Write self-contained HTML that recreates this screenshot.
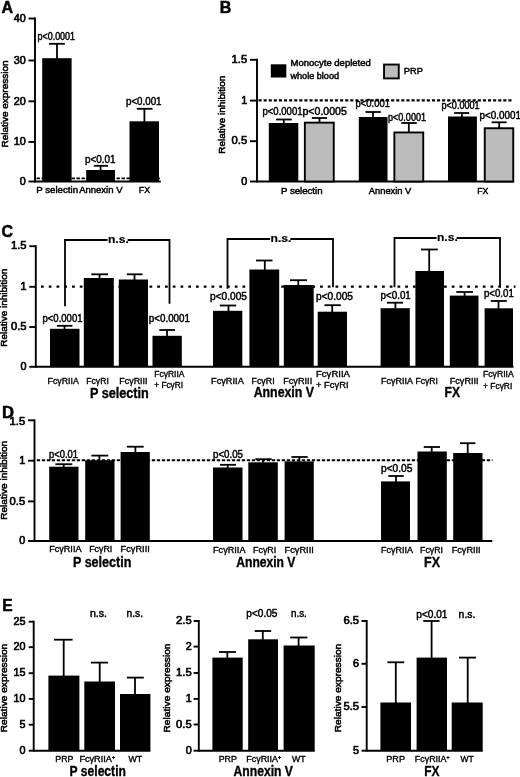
<!DOCTYPE html>
<html><head><meta charset="utf-8"><title>Figure</title>
<style>
html,body{margin:0;padding:0;background:#fff;}
body{width:520px;height:777px;overflow:hidden;font-family:'Liberation Sans', sans-serif;}
svg{display:block;filter:grayscale(1) blur(0.3px);}
svg text{font-family:"Liberation Sans",sans-serif;fill:#000;}
</style></head><body>
<svg width="520" height="777" viewBox="0 0 520 777">
<rect width="520" height="777" fill="#fff"/>
<g>
<text x="7.30" y="13.11" font-size="16.5" font-weight="bold" text-anchor="middle" textLength="11.60" lengthAdjust="spacingAndGlyphs" stroke="#000" stroke-width="0.5">A</text>
<line x1="35.00" y1="17.55" x2="35.00" y2="182.45" stroke="#000" stroke-width="1.9" stroke-linecap="butt"/>
<line x1="28.50" y1="18.50" x2="35.00" y2="18.50" stroke="#000" stroke-width="1.9" stroke-linecap="butt"/>
<text x="19.70" y="21.78" font-size="10" font-weight="normal" text-anchor="middle" textLength="12.00" lengthAdjust="spacingAndGlyphs" stroke="#000" stroke-width="0.6">40</text>
<line x1="28.50" y1="60.50" x2="35.00" y2="60.50" stroke="#000" stroke-width="1.9" stroke-linecap="butt"/>
<text x="19.70" y="63.78" font-size="10" font-weight="normal" text-anchor="middle" textLength="12.00" lengthAdjust="spacingAndGlyphs" stroke="#000" stroke-width="0.6">30</text>
<line x1="28.50" y1="101.30" x2="35.00" y2="101.30" stroke="#000" stroke-width="1.9" stroke-linecap="butt"/>
<text x="19.70" y="104.58" font-size="10" font-weight="normal" text-anchor="middle" textLength="12.00" lengthAdjust="spacingAndGlyphs" stroke="#000" stroke-width="0.6">20</text>
<line x1="28.50" y1="142.00" x2="35.00" y2="142.00" stroke="#000" stroke-width="1.9" stroke-linecap="butt"/>
<text x="19.70" y="145.28" font-size="10" font-weight="normal" text-anchor="middle" textLength="12.00" lengthAdjust="spacingAndGlyphs" stroke="#000" stroke-width="0.6">10</text>
<line x1="28.50" y1="181.50" x2="35.00" y2="181.50" stroke="#000" stroke-width="1.9" stroke-linecap="butt"/>
<text x="22.70" y="184.78" font-size="10" font-weight="normal" text-anchor="middle" textLength="6.00" lengthAdjust="spacingAndGlyphs" stroke="#000" stroke-width="0.6">0</text>
<line x1="35.00" y1="181.50" x2="160.80" y2="181.50" stroke="#000" stroke-width="1.9" stroke-linecap="butt"/>
<text transform="translate(7.62,104.00) rotate(-90)" font-size="9" text-anchor="middle" textLength="87.00" lengthAdjust="spacingAndGlyphs" stroke="#000" stroke-width="0.5">Relative expression</text>
<line x1="36.50" y1="178.40" x2="161.50" y2="178.40" stroke="#000" stroke-width="1.7" stroke-linecap="butt" stroke-dasharray="3.4 1.6"/>
<rect x="42.20" y="58.20" width="29.40" height="123.30" fill="#000"/>
<line x1="57.00" y1="43.80" x2="57.00" y2="58.80" stroke="#000" stroke-width="1.8" stroke-linecap="butt"/>
<line x1="49.00" y1="43.80" x2="64.80" y2="43.80" stroke="#000" stroke-width="1.8" stroke-linecap="butt"/>
<rect x="86.20" y="170.00" width="28.80" height="11.50" fill="#000"/>
<line x1="100.60" y1="165.80" x2="100.60" y2="170.50" stroke="#000" stroke-width="1.8" stroke-linecap="butt"/>
<line x1="93.80" y1="165.80" x2="108.00" y2="165.80" stroke="#000" stroke-width="1.8" stroke-linecap="butt"/>
<rect x="129.50" y="121.30" width="29.50" height="60.20" fill="#000"/>
<line x1="144.40" y1="108.80" x2="144.40" y2="121.80" stroke="#000" stroke-width="1.8" stroke-linecap="butt"/>
<line x1="136.80" y1="108.80" x2="152.50" y2="108.80" stroke="#000" stroke-width="1.8" stroke-linecap="butt"/>
<text x="56.25" y="40.38" font-size="10" font-weight="normal" text-anchor="middle" textLength="37.50" lengthAdjust="spacingAndGlyphs" stroke="#000" stroke-width="0.45">p&lt;0.0001</text>
<text x="100.25" y="162.58" font-size="10" font-weight="normal" text-anchor="middle" textLength="30.50" lengthAdjust="spacingAndGlyphs" stroke="#000" stroke-width="0.45">p&lt;0.01</text>
<text x="143.75" y="105.08" font-size="10" font-weight="normal" text-anchor="middle" textLength="35.50" lengthAdjust="spacingAndGlyphs" stroke="#000" stroke-width="0.45">p&lt;0.001</text>
<text x="57.15" y="193.10" font-size="9.5" font-weight="normal" text-anchor="middle" textLength="41.90" lengthAdjust="spacingAndGlyphs" stroke="#000" stroke-width="0.45">P selectin</text>
<text x="100.85" y="193.10" font-size="9.5" font-weight="normal" text-anchor="middle" textLength="43.30" lengthAdjust="spacingAndGlyphs" stroke="#000" stroke-width="0.45">Annexin V</text>
<text x="144.40" y="193.10" font-size="9.5" font-weight="normal" text-anchor="middle" textLength="11.20" lengthAdjust="spacingAndGlyphs" stroke="#000" stroke-width="0.45">FX</text>
<text x="225.50" y="12.91" font-size="16.5" font-weight="bold" text-anchor="middle" textLength="11.60" lengthAdjust="spacingAndGlyphs" stroke="#000" stroke-width="0.5">B</text>
<line x1="257.00" y1="58.85" x2="257.00" y2="182.45" stroke="#000" stroke-width="1.9" stroke-linecap="butt"/>
<line x1="250.00" y1="59.80" x2="257.00" y2="59.80" stroke="#000" stroke-width="1.9" stroke-linecap="butt"/>
<text x="239.40" y="63.08" font-size="10" font-weight="normal" text-anchor="middle" textLength="15.60" lengthAdjust="spacingAndGlyphs" stroke="#000" stroke-width="0.6">1.5</text>
<line x1="250.00" y1="100.60" x2="257.00" y2="100.60" stroke="#000" stroke-width="1.9" stroke-linecap="butt"/>
<text x="244.20" y="103.88" font-size="10" font-weight="normal" text-anchor="middle" textLength="6.00" lengthAdjust="spacingAndGlyphs" stroke="#000" stroke-width="0.6">1</text>
<line x1="250.00" y1="141.20" x2="257.00" y2="141.20" stroke="#000" stroke-width="1.9" stroke-linecap="butt"/>
<text x="239.40" y="144.48" font-size="10" font-weight="normal" text-anchor="middle" textLength="15.60" lengthAdjust="spacingAndGlyphs" stroke="#000" stroke-width="0.6">0.5</text>
<line x1="250.00" y1="181.50" x2="257.00" y2="181.50" stroke="#000" stroke-width="1.9" stroke-linecap="butt"/>
<text x="244.20" y="184.78" font-size="10" font-weight="normal" text-anchor="middle" textLength="6.00" lengthAdjust="spacingAndGlyphs" stroke="#000" stroke-width="0.6">0</text>
<line x1="257.00" y1="181.50" x2="513.80" y2="181.50" stroke="#000" stroke-width="1.9" stroke-linecap="butt"/>
<text transform="translate(225.12,114.70) rotate(-90)" font-size="9" text-anchor="middle" textLength="78.00" lengthAdjust="spacingAndGlyphs" stroke="#000" stroke-width="0.5">Relative inhibition</text>
<line x1="258.50" y1="100.40" x2="513.00" y2="100.40" stroke="#000" stroke-width="2.4" stroke-linecap="butt" stroke-dasharray="3.1 2"/>
<rect x="270.80" y="64.30" width="15.50" height="13.20" fill="#000"/>
<text x="330.65" y="66.22" font-size="9" font-weight="normal" text-anchor="middle" textLength="80.30" lengthAdjust="spacingAndGlyphs" stroke="#000" stroke-width="0.45">Monocyte depleted</text>
<text x="314.75" y="79.02" font-size="9" font-weight="normal" text-anchor="middle" textLength="48.50" lengthAdjust="spacingAndGlyphs" stroke="#000" stroke-width="0.45">whole blood</text>
<rect x="384.05" y="64.55" width="14.70" height="13.85" fill="#bcbcbc" stroke="#000" stroke-width="1.9"/>
<text x="413.30" y="73.52" font-size="9" font-weight="normal" text-anchor="middle" textLength="19.00" lengthAdjust="spacingAndGlyphs" stroke="#000" stroke-width="0.45">PRP</text>
<rect x="268.80" y="123.00" width="29.50" height="58.00" fill="#000"/>
<line x1="283.80" y1="119.50" x2="283.80" y2="123.50" stroke="#000" stroke-width="1.8" stroke-linecap="butt"/>
<line x1="276.00" y1="119.50" x2="291.80" y2="119.50" stroke="#000" stroke-width="1.8" stroke-linecap="butt"/>
<rect x="304.85" y="122.65" width="28.90" height="58.85" fill="#bcbcbc" stroke="#000" stroke-width="1.9"/>
<line x1="319.50" y1="118.00" x2="319.50" y2="122.50" stroke="#000" stroke-width="1.8" stroke-linecap="butt"/>
<line x1="311.80" y1="118.00" x2="327.00" y2="118.00" stroke="#000" stroke-width="1.8" stroke-linecap="butt"/>
<rect x="358.80" y="117.00" width="28.70" height="64.00" fill="#000"/>
<line x1="373.00" y1="112.00" x2="373.00" y2="117.50" stroke="#000" stroke-width="1.8" stroke-linecap="butt"/>
<line x1="365.50" y1="112.00" x2="380.80" y2="112.00" stroke="#000" stroke-width="1.8" stroke-linecap="butt"/>
<rect x="394.35" y="132.45" width="28.90" height="49.05" fill="#bcbcbc" stroke="#000" stroke-width="1.9"/>
<line x1="408.80" y1="123.00" x2="408.80" y2="132.30" stroke="#000" stroke-width="1.8" stroke-linecap="butt"/>
<line x1="401.30" y1="123.00" x2="416.80" y2="123.00" stroke="#000" stroke-width="1.8" stroke-linecap="butt"/>
<rect x="448.00" y="116.50" width="28.90" height="64.50" fill="#000"/>
<line x1="461.90" y1="113.00" x2="461.90" y2="117.00" stroke="#000" stroke-width="1.8" stroke-linecap="butt"/>
<line x1="454.20" y1="113.00" x2="469.20" y2="113.00" stroke="#000" stroke-width="1.8" stroke-linecap="butt"/>
<rect x="484.75" y="128.25" width="28.50" height="53.25" fill="#bcbcbc" stroke="#000" stroke-width="1.9"/>
<line x1="499.20" y1="122.30" x2="499.20" y2="128.10" stroke="#000" stroke-width="1.8" stroke-linecap="butt"/>
<line x1="491.60" y1="122.30" x2="506.60" y2="122.30" stroke="#000" stroke-width="1.8" stroke-linecap="butt"/>
<text x="282.50" y="114.58" font-size="10" font-weight="normal" text-anchor="middle" textLength="40.00" lengthAdjust="spacingAndGlyphs" stroke="#000" stroke-width="0.45">p&lt;0.0001</text>
<text x="324.65" y="114.58" font-size="10" font-weight="normal" text-anchor="middle" textLength="44.30" lengthAdjust="spacingAndGlyphs" stroke="#000" stroke-width="0.45">p&lt;0.0005</text>
<text x="372.75" y="107.38" font-size="10" font-weight="normal" text-anchor="middle" textLength="34.50" lengthAdjust="spacingAndGlyphs" stroke="#000" stroke-width="0.45">p&lt;0.001</text>
<text x="407.00" y="120.58" font-size="10" font-weight="normal" text-anchor="middle" textLength="38.00" lengthAdjust="spacingAndGlyphs" stroke="#000" stroke-width="0.45">p&lt;0.0001</text>
<text x="460.55" y="108.58" font-size="10" font-weight="normal" text-anchor="middle" textLength="38.10" lengthAdjust="spacingAndGlyphs" stroke="#000" stroke-width="0.45">p&lt;0.0001</text>
<text x="500.30" y="118.98" font-size="10" font-weight="normal" text-anchor="middle" textLength="41.40" lengthAdjust="spacingAndGlyphs" stroke="#000" stroke-width="0.45">p&lt;0.0001</text>
<text x="301.75" y="194.22" font-size="9" font-weight="normal" text-anchor="middle" textLength="41.50" lengthAdjust="spacingAndGlyphs" stroke="#000" stroke-width="0.45">P selectin</text>
<text x="390.05" y="194.02" font-size="9" font-weight="normal" text-anchor="middle" textLength="42.50" lengthAdjust="spacingAndGlyphs" stroke="#000" stroke-width="0.45">Annexin V</text>
<text x="482.85" y="194.22" font-size="9" font-weight="normal" text-anchor="middle" textLength="11.10" lengthAdjust="spacingAndGlyphs" stroke="#000" stroke-width="0.45">FX</text>
<text x="7.25" y="237.41" font-size="16.5" font-weight="bold" text-anchor="middle" textLength="11.50" lengthAdjust="spacingAndGlyphs" stroke="#000" stroke-width="0.5">C</text>
<line x1="35.80" y1="245.25" x2="35.80" y2="367.75" stroke="#000" stroke-width="1.9" stroke-linecap="butt"/>
<line x1="29.30" y1="246.20" x2="35.80" y2="246.20" stroke="#000" stroke-width="1.9" stroke-linecap="butt"/>
<text x="18.70" y="249.48" font-size="10" font-weight="normal" text-anchor="middle" textLength="15.60" lengthAdjust="spacingAndGlyphs" stroke="#000" stroke-width="0.6">1.5</text>
<line x1="29.30" y1="286.80" x2="35.80" y2="286.80" stroke="#000" stroke-width="1.9" stroke-linecap="butt"/>
<text x="23.50" y="290.08" font-size="10" font-weight="normal" text-anchor="middle" textLength="6.00" lengthAdjust="spacingAndGlyphs" stroke="#000" stroke-width="0.6">1</text>
<line x1="29.30" y1="327.00" x2="35.80" y2="327.00" stroke="#000" stroke-width="1.9" stroke-linecap="butt"/>
<text x="18.70" y="330.28" font-size="10" font-weight="normal" text-anchor="middle" textLength="15.60" lengthAdjust="spacingAndGlyphs" stroke="#000" stroke-width="0.6">0.5</text>
<line x1="29.30" y1="366.80" x2="35.80" y2="366.80" stroke="#000" stroke-width="1.9" stroke-linecap="butt"/>
<text x="23.50" y="370.08" font-size="10" font-weight="normal" text-anchor="middle" textLength="6.00" lengthAdjust="spacingAndGlyphs" stroke="#000" stroke-width="0.6">0</text>
<line x1="36.00" y1="366.80" x2="513.50" y2="366.80" stroke="#000" stroke-width="1.9" stroke-linecap="butt"/>
<text transform="translate(7.32,307.70) rotate(-90)" font-size="9" text-anchor="middle" textLength="78.00" lengthAdjust="spacingAndGlyphs" stroke="#000" stroke-width="0.5">Relative inhibition</text>
<line x1="41.00" y1="286.70" x2="515.50" y2="286.70" stroke="#000" stroke-width="2.3" stroke-linecap="butt" stroke-dasharray="2.75 5"/>
<polyline points="65.0,306.3 65.0,240.0 107.5,240.0" fill="none" stroke="#000" stroke-width="1.8"/>
<polyline points="127.6,240.0 169.5,240.0 169.5,303.8" fill="none" stroke="#000" stroke-width="1.8"/>
<text x="118.40" y="242.96" font-size="10.5" font-weight="bold" text-anchor="middle" textLength="20.80" lengthAdjust="spacingAndGlyphs" stroke="#000" stroke-width="0.2">n.s.</text>
<polyline points="227.5,288.8 227.5,239.0 270.1,239.0" fill="none" stroke="#000" stroke-width="1.8"/>
<polyline points="290.3,239.0 333.0,239.0 333.0,287.3" fill="none" stroke="#000" stroke-width="1.8"/>
<text x="281.05" y="241.96" font-size="10.5" font-weight="bold" text-anchor="middle" textLength="20.90" lengthAdjust="spacingAndGlyphs" stroke="#000" stroke-width="0.2">n.s.</text>
<polyline points="394.5,287.3 394.5,238.0 436.5,238.0" fill="none" stroke="#000" stroke-width="1.8"/>
<polyline points="456.6,238.0 500.0,238.0 500.0,286.4" fill="none" stroke="#000" stroke-width="1.8"/>
<text x="447.40" y="240.96" font-size="10.5" font-weight="bold" text-anchor="middle" textLength="20.80" lengthAdjust="spacingAndGlyphs" stroke="#000" stroke-width="0.2">n.s.</text>
<rect x="50.00" y="328.80" width="29.50" height="38.00" fill="#000"/>
<line x1="64.50" y1="325.80" x2="64.50" y2="329.30" stroke="#000" stroke-width="1.8" stroke-linecap="butt"/>
<line x1="57.00" y1="325.80" x2="72.50" y2="325.80" stroke="#000" stroke-width="1.8" stroke-linecap="butt"/>
<rect x="83.80" y="278.00" width="30.00" height="88.80" fill="#000"/>
<line x1="99.50" y1="274.30" x2="99.50" y2="278.50" stroke="#000" stroke-width="1.8" stroke-linecap="butt"/>
<line x1="91.30" y1="274.30" x2="108.00" y2="274.30" stroke="#000" stroke-width="1.8" stroke-linecap="butt"/>
<rect x="118.80" y="279.50" width="29.20" height="87.30" fill="#000"/>
<line x1="134.50" y1="274.30" x2="134.50" y2="280.00" stroke="#000" stroke-width="1.8" stroke-linecap="butt"/>
<line x1="126.80" y1="274.30" x2="142.50" y2="274.30" stroke="#000" stroke-width="1.8" stroke-linecap="butt"/>
<rect x="152.50" y="335.80" width="29.30" height="31.00" fill="#000"/>
<line x1="167.00" y1="330.00" x2="167.00" y2="336.30" stroke="#000" stroke-width="1.8" stroke-linecap="butt"/>
<line x1="159.30" y1="330.00" x2="175.00" y2="330.00" stroke="#000" stroke-width="1.8" stroke-linecap="butt"/>
<rect x="213.00" y="310.80" width="29.30" height="56.00" fill="#000"/>
<line x1="228.50" y1="305.50" x2="228.50" y2="311.30" stroke="#000" stroke-width="1.8" stroke-linecap="butt"/>
<line x1="219.80" y1="305.50" x2="236.20" y2="305.50" stroke="#000" stroke-width="1.8" stroke-linecap="butt"/>
<rect x="249.40" y="269.50" width="29.80" height="97.30" fill="#000"/>
<line x1="264.80" y1="260.50" x2="264.80" y2="270.00" stroke="#000" stroke-width="1.8" stroke-linecap="butt"/>
<line x1="256.00" y1="260.50" x2="272.50" y2="260.50" stroke="#000" stroke-width="1.8" stroke-linecap="butt"/>
<rect x="283.80" y="285.00" width="29.90" height="81.80" fill="#000"/>
<line x1="298.30" y1="280.20" x2="298.30" y2="285.50" stroke="#000" stroke-width="1.8" stroke-linecap="butt"/>
<line x1="290.00" y1="280.20" x2="307.00" y2="280.20" stroke="#000" stroke-width="1.8" stroke-linecap="butt"/>
<rect x="317.70" y="311.70" width="29.30" height="55.10" fill="#000"/>
<line x1="332.20" y1="305.20" x2="332.20" y2="312.20" stroke="#000" stroke-width="1.8" stroke-linecap="butt"/>
<line x1="324.50" y1="305.20" x2="340.80" y2="305.20" stroke="#000" stroke-width="1.8" stroke-linecap="butt"/>
<rect x="380.60" y="308.20" width="29.20" height="58.60" fill="#000"/>
<line x1="395.40" y1="302.70" x2="395.40" y2="308.70" stroke="#000" stroke-width="1.8" stroke-linecap="butt"/>
<line x1="387.00" y1="302.70" x2="403.00" y2="302.70" stroke="#000" stroke-width="1.8" stroke-linecap="butt"/>
<rect x="415.40" y="271.00" width="28.60" height="95.80" fill="#000"/>
<line x1="429.20" y1="249.50" x2="429.20" y2="271.50" stroke="#000" stroke-width="1.8" stroke-linecap="butt"/>
<line x1="421.00" y1="249.50" x2="437.80" y2="249.50" stroke="#000" stroke-width="1.8" stroke-linecap="butt"/>
<rect x="449.80" y="295.60" width="28.70" height="71.20" fill="#000"/>
<line x1="464.60" y1="292.00" x2="464.60" y2="296.10" stroke="#000" stroke-width="1.8" stroke-linecap="butt"/>
<line x1="456.30" y1="292.00" x2="473.00" y2="292.00" stroke="#000" stroke-width="1.8" stroke-linecap="butt"/>
<rect x="484.60" y="308.30" width="28.40" height="58.50" fill="#000"/>
<line x1="498.50" y1="301.00" x2="498.50" y2="308.80" stroke="#000" stroke-width="1.8" stroke-linecap="butt"/>
<line x1="490.80" y1="301.00" x2="506.80" y2="301.00" stroke="#000" stroke-width="1.8" stroke-linecap="butt"/>
<text x="62.50" y="321.58" font-size="10" font-weight="normal" text-anchor="middle" textLength="40.00" lengthAdjust="spacingAndGlyphs" stroke="#000" stroke-width="0.45">p&lt;0.0001</text>
<text x="169.40" y="321.58" font-size="10" font-weight="normal" text-anchor="middle" textLength="41.20" lengthAdjust="spacingAndGlyphs" stroke="#000" stroke-width="0.45">p&lt;0.0001</text>
<text x="228.50" y="300.08" font-size="10" font-weight="normal" text-anchor="middle" textLength="37.00" lengthAdjust="spacingAndGlyphs" stroke="#000" stroke-width="0.45">p&lt;0.005</text>
<text x="334.50" y="300.08" font-size="10" font-weight="normal" text-anchor="middle" textLength="37.00" lengthAdjust="spacingAndGlyphs" stroke="#000" stroke-width="0.45">p&lt;0.005</text>
<text x="395.70" y="299.18" font-size="10" font-weight="normal" text-anchor="middle" textLength="30.20" lengthAdjust="spacingAndGlyphs" stroke="#000" stroke-width="0.45">p&lt;0.01</text>
<text x="498.90" y="297.08" font-size="10" font-weight="normal" text-anchor="middle" textLength="29.80" lengthAdjust="spacingAndGlyphs" stroke="#000" stroke-width="0.45">p&lt;0.01</text>
<text x="63.15" y="383.94" font-size="9.6" font-weight="normal" text-anchor="middle" textLength="31.30" lengthAdjust="spacingAndGlyphs" stroke="#000" stroke-width="0.4">Fc&#947;RIIA</text>
<text x="97.55" y="383.94" font-size="9.6" font-weight="normal" text-anchor="middle" textLength="22.50" lengthAdjust="spacingAndGlyphs" stroke="#000" stroke-width="0.4">Fc&#947;RI</text>
<text x="133.40" y="383.94" font-size="9.6" font-weight="normal" text-anchor="middle" textLength="28.20" lengthAdjust="spacingAndGlyphs" stroke="#000" stroke-width="0.4">Fc&#947;RIII</text>
<text x="169.40" y="377.24" font-size="9.6" font-weight="normal" text-anchor="middle" textLength="30.20" lengthAdjust="spacingAndGlyphs" stroke="#000" stroke-width="0.4">Fc&#947;RIIA</text>
<text x="168.65" y="388.44" font-size="9.6" font-weight="normal" text-anchor="middle" textLength="28.70" lengthAdjust="spacingAndGlyphs" stroke="#000" stroke-width="0.4">+ Fc&#947;RI</text>
<text x="227.40" y="383.94" font-size="9.6" font-weight="normal" text-anchor="middle" textLength="32.80" lengthAdjust="spacingAndGlyphs" stroke="#000" stroke-width="0.4">Fc&#947;RIIA</text>
<text x="263.05" y="383.94" font-size="9.6" font-weight="normal" text-anchor="middle" textLength="23.10" lengthAdjust="spacingAndGlyphs" stroke="#000" stroke-width="0.4">Fc&#947;RI</text>
<text x="297.70" y="383.94" font-size="9.6" font-weight="normal" text-anchor="middle" textLength="29.00" lengthAdjust="spacingAndGlyphs" stroke="#000" stroke-width="0.4">Fc&#947;RIII</text>
<text x="333.00" y="376.84" font-size="9.6" font-weight="normal" text-anchor="middle" textLength="34.00" lengthAdjust="spacingAndGlyphs" stroke="#000" stroke-width="0.4">Fc&#947;RIIA</text>
<text x="332.25" y="388.24" font-size="9.6" font-weight="normal" text-anchor="middle" textLength="32.50" lengthAdjust="spacingAndGlyphs" stroke="#000" stroke-width="0.4">+ Fc&#947;RI</text>
<text x="397.00" y="383.94" font-size="9.6" font-weight="normal" text-anchor="middle" textLength="32.00" lengthAdjust="spacingAndGlyphs" stroke="#000" stroke-width="0.4">Fc&#947;RIIA</text>
<text x="426.60" y="383.94" font-size="9.6" font-weight="normal" text-anchor="middle" textLength="22.40" lengthAdjust="spacingAndGlyphs" stroke="#000" stroke-width="0.4">Fc&#947;RI</text>
<text x="464.15" y="383.94" font-size="9.6" font-weight="normal" text-anchor="middle" textLength="28.70" lengthAdjust="spacingAndGlyphs" stroke="#000" stroke-width="0.4">Fc&#947;RIII</text>
<text x="498.40" y="377.24" font-size="9.6" font-weight="normal" text-anchor="middle" textLength="30.80" lengthAdjust="spacingAndGlyphs" stroke="#000" stroke-width="0.4">Fc&#947;RIIA</text>
<text x="497.65" y="388.64" font-size="9.6" font-weight="normal" text-anchor="middle" textLength="29.30" lengthAdjust="spacingAndGlyphs" stroke="#000" stroke-width="0.4">+ Fc&#947;RI</text>
<text x="119.40" y="397.51" font-size="14" font-weight="bold" text-anchor="middle" textLength="58.80" lengthAdjust="spacingAndGlyphs" stroke="#000" stroke-width="0.35">P selectin</text>
<text x="283.85" y="397.01" font-size="14" font-weight="bold" text-anchor="middle" textLength="60.30" lengthAdjust="spacingAndGlyphs" stroke="#000" stroke-width="0.35">Annexin V</text>
<text x="452.30" y="397.31" font-size="14" font-weight="bold" text-anchor="middle" textLength="15.40" lengthAdjust="spacingAndGlyphs" stroke="#000" stroke-width="0.35">FX</text>
<text x="8.00" y="417.91" font-size="16.5" font-weight="bold" text-anchor="middle" textLength="12.00" lengthAdjust="spacingAndGlyphs" stroke="#000" stroke-width="0.5">D</text>
<line x1="34.50" y1="419.35" x2="34.50" y2="541.95" stroke="#000" stroke-width="1.9" stroke-linecap="butt"/>
<line x1="28.00" y1="420.30" x2="34.50" y2="420.30" stroke="#000" stroke-width="1.9" stroke-linecap="butt"/>
<text x="17.40" y="425.08" font-size="10" font-weight="normal" text-anchor="middle" textLength="15.60" lengthAdjust="spacingAndGlyphs" stroke="#000" stroke-width="0.6">1.5</text>
<line x1="28.00" y1="460.70" x2="34.50" y2="460.70" stroke="#000" stroke-width="1.9" stroke-linecap="butt"/>
<text x="22.20" y="464.48" font-size="10" font-weight="normal" text-anchor="middle" textLength="6.00" lengthAdjust="spacingAndGlyphs" stroke="#000" stroke-width="0.6">1</text>
<line x1="28.00" y1="501.40" x2="34.50" y2="501.40" stroke="#000" stroke-width="1.9" stroke-linecap="butt"/>
<text x="17.40" y="504.68" font-size="10" font-weight="normal" text-anchor="middle" textLength="15.60" lengthAdjust="spacingAndGlyphs" stroke="#000" stroke-width="0.6">0.5</text>
<line x1="28.00" y1="541.00" x2="34.50" y2="541.00" stroke="#000" stroke-width="1.9" stroke-linecap="butt"/>
<text x="22.20" y="544.28" font-size="10" font-weight="normal" text-anchor="middle" textLength="6.00" lengthAdjust="spacingAndGlyphs" stroke="#000" stroke-width="0.6">0</text>
<line x1="34.50" y1="541.00" x2="492.30" y2="541.00" stroke="#000" stroke-width="1.9" stroke-linecap="butt"/>
<text transform="translate(7.42,480.30) rotate(-90)" font-size="9" text-anchor="middle" textLength="79.00" lengthAdjust="spacingAndGlyphs" stroke="#000" stroke-width="0.5">Relative inhibition</text>
<line x1="36.80" y1="460.30" x2="492.50" y2="460.30" stroke="#000" stroke-width="1.9" stroke-linecap="butt" stroke-dasharray="3.3 1.7"/>
<rect x="49.20" y="466.70" width="29.30" height="74.30" fill="#000"/>
<line x1="63.70" y1="464.20" x2="63.70" y2="467.20" stroke="#000" stroke-width="1.8" stroke-linecap="butt"/>
<line x1="55.40" y1="464.20" x2="72.30" y2="464.20" stroke="#000" stroke-width="1.8" stroke-linecap="butt"/>
<rect x="85.20" y="460.20" width="29.30" height="80.80" fill="#000"/>
<line x1="99.40" y1="455.60" x2="99.40" y2="460.70" stroke="#000" stroke-width="1.8" stroke-linecap="butt"/>
<line x1="91.40" y1="455.60" x2="108.30" y2="455.60" stroke="#000" stroke-width="1.8" stroke-linecap="butt"/>
<rect x="120.60" y="452.00" width="29.20" height="89.00" fill="#000"/>
<line x1="135.40" y1="446.70" x2="135.40" y2="452.50" stroke="#000" stroke-width="1.8" stroke-linecap="butt"/>
<line x1="126.80" y1="446.70" x2="143.70" y2="446.70" stroke="#000" stroke-width="1.8" stroke-linecap="butt"/>
<rect x="213.00" y="467.50" width="29.50" height="73.50" fill="#000"/>
<line x1="227.70" y1="464.80" x2="227.70" y2="468.00" stroke="#000" stroke-width="1.8" stroke-linecap="butt"/>
<line x1="220.00" y1="464.80" x2="236.00" y2="464.80" stroke="#000" stroke-width="1.8" stroke-linecap="butt"/>
<rect x="248.30" y="462.30" width="29.50" height="78.70" fill="#000"/>
<line x1="263.00" y1="459.20" x2="263.00" y2="462.80" stroke="#000" stroke-width="1.8" stroke-linecap="butt"/>
<line x1="255.40" y1="459.20" x2="271.70" y2="459.20" stroke="#000" stroke-width="1.8" stroke-linecap="butt"/>
<rect x="284.60" y="461.40" width="29.20" height="79.60" fill="#000"/>
<line x1="299.40" y1="457.00" x2="299.40" y2="461.90" stroke="#000" stroke-width="1.8" stroke-linecap="butt"/>
<line x1="291.40" y1="457.00" x2="307.70" y2="457.00" stroke="#000" stroke-width="1.8" stroke-linecap="butt"/>
<rect x="381.00" y="481.40" width="29.00" height="59.60" fill="#000"/>
<line x1="396.00" y1="476.00" x2="396.00" y2="481.90" stroke="#000" stroke-width="1.8" stroke-linecap="butt"/>
<line x1="388.30" y1="476.00" x2="403.70" y2="476.00" stroke="#000" stroke-width="1.8" stroke-linecap="butt"/>
<rect x="417.50" y="451.50" width="29.30" height="89.50" fill="#000"/>
<line x1="431.70" y1="447.00" x2="431.70" y2="452.00" stroke="#000" stroke-width="1.8" stroke-linecap="butt"/>
<line x1="423.70" y1="447.00" x2="440.00" y2="447.00" stroke="#000" stroke-width="1.8" stroke-linecap="butt"/>
<rect x="453.20" y="453.00" width="29.30" height="88.00" fill="#000"/>
<line x1="467.70" y1="443.20" x2="467.70" y2="453.50" stroke="#000" stroke-width="1.8" stroke-linecap="butt"/>
<line x1="460.00" y1="443.20" x2="475.40" y2="443.20" stroke="#000" stroke-width="1.8" stroke-linecap="butt"/>
<text x="63.50" y="458.18" font-size="10" font-weight="normal" text-anchor="middle" textLength="29.00" lengthAdjust="spacingAndGlyphs" stroke="#000" stroke-width="0.45">p&lt;0.01</text>
<text x="228.00" y="458.18" font-size="10" font-weight="normal" text-anchor="middle" textLength="30.00" lengthAdjust="spacingAndGlyphs" stroke="#000" stroke-width="0.45">p&lt;0.05</text>
<text x="396.65" y="472.08" font-size="10" font-weight="normal" text-anchor="middle" textLength="31.30" lengthAdjust="spacingAndGlyphs" stroke="#000" stroke-width="0.45">p&lt;0.05</text>
<text x="65.35" y="552.24" font-size="9.6" font-weight="normal" text-anchor="middle" textLength="32.30" lengthAdjust="spacingAndGlyphs" stroke="#000" stroke-width="0.4">Fc&#947;RIIA</text>
<text x="100.75" y="552.24" font-size="9.6" font-weight="normal" text-anchor="middle" textLength="23.10" lengthAdjust="spacingAndGlyphs" stroke="#000" stroke-width="0.4">Fc&#947;RI</text>
<text x="135.20" y="552.24" font-size="9.6" font-weight="normal" text-anchor="middle" textLength="29.20" lengthAdjust="spacingAndGlyphs" stroke="#000" stroke-width="0.4">Fc&#947;RIII</text>
<text x="229.25" y="552.64" font-size="9.6" font-weight="normal" text-anchor="middle" textLength="32.50" lengthAdjust="spacingAndGlyphs" stroke="#000" stroke-width="0.4">Fc&#947;RIIA</text>
<text x="264.65" y="552.64" font-size="9.6" font-weight="normal" text-anchor="middle" textLength="23.30" lengthAdjust="spacingAndGlyphs" stroke="#000" stroke-width="0.4">Fc&#947;RI</text>
<text x="299.20" y="552.64" font-size="9.6" font-weight="normal" text-anchor="middle" textLength="29.20" lengthAdjust="spacingAndGlyphs" stroke="#000" stroke-width="0.4">Fc&#947;RIII</text>
<text x="397.00" y="552.64" font-size="9.6" font-weight="normal" text-anchor="middle" textLength="32.00" lengthAdjust="spacingAndGlyphs" stroke="#000" stroke-width="0.4">Fc&#947;RIIA</text>
<text x="431.50" y="552.64" font-size="9.6" font-weight="normal" text-anchor="middle" textLength="23.00" lengthAdjust="spacingAndGlyphs" stroke="#000" stroke-width="0.4">Fc&#947;RI</text>
<text x="466.15" y="552.64" font-size="9.6" font-weight="normal" text-anchor="middle" textLength="28.90" lengthAdjust="spacingAndGlyphs" stroke="#000" stroke-width="0.4">Fc&#947;RIII</text>
<text x="102.20" y="567.01" font-size="14" font-weight="bold" text-anchor="middle" textLength="58.40" lengthAdjust="spacingAndGlyphs" stroke="#000" stroke-width="0.35">P selectin</text>
<text x="265.85" y="566.71" font-size="14" font-weight="bold" text-anchor="middle" textLength="59.10" lengthAdjust="spacingAndGlyphs" stroke="#000" stroke-width="0.35">Annexin V</text>
<text x="432.00" y="567.31" font-size="14" font-weight="bold" text-anchor="middle" textLength="16.00" lengthAdjust="spacingAndGlyphs" stroke="#000" stroke-width="0.35">FX</text>
<text x="7.40" y="610.91" font-size="16.5" font-weight="bold" text-anchor="middle" textLength="10.40" lengthAdjust="spacingAndGlyphs" stroke="#000" stroke-width="0.5">E</text>
<line x1="33.70" y1="620.75" x2="33.70" y2="751.65" stroke="#000" stroke-width="1.9" stroke-linecap="butt"/>
<line x1="28.70" y1="621.70" x2="33.70" y2="621.70" stroke="#000" stroke-width="1.9" stroke-linecap="butt"/>
<text x="19.50" y="624.98" font-size="10" font-weight="normal" text-anchor="middle" textLength="12.00" lengthAdjust="spacingAndGlyphs" stroke="#000" stroke-width="0.6">25</text>
<line x1="28.70" y1="647.20" x2="33.70" y2="647.20" stroke="#000" stroke-width="1.9" stroke-linecap="butt"/>
<text x="19.50" y="650.48" font-size="10" font-weight="normal" text-anchor="middle" textLength="12.00" lengthAdjust="spacingAndGlyphs" stroke="#000" stroke-width="0.6">20</text>
<line x1="28.70" y1="673.20" x2="33.70" y2="673.20" stroke="#000" stroke-width="1.9" stroke-linecap="butt"/>
<text x="19.50" y="676.48" font-size="10" font-weight="normal" text-anchor="middle" textLength="12.00" lengthAdjust="spacingAndGlyphs" stroke="#000" stroke-width="0.6">15</text>
<line x1="28.70" y1="698.90" x2="33.70" y2="698.90" stroke="#000" stroke-width="1.9" stroke-linecap="butt"/>
<text x="19.50" y="702.18" font-size="10" font-weight="normal" text-anchor="middle" textLength="12.00" lengthAdjust="spacingAndGlyphs" stroke="#000" stroke-width="0.6">10</text>
<line x1="28.70" y1="724.70" x2="33.70" y2="724.70" stroke="#000" stroke-width="1.9" stroke-linecap="butt"/>
<text x="22.50" y="727.98" font-size="10" font-weight="normal" text-anchor="middle" textLength="6.00" lengthAdjust="spacingAndGlyphs" stroke="#000" stroke-width="0.6">5</text>
<line x1="28.70" y1="750.70" x2="33.70" y2="750.70" stroke="#000" stroke-width="1.9" stroke-linecap="butt"/>
<text x="22.50" y="753.98" font-size="10" font-weight="normal" text-anchor="middle" textLength="6.00" lengthAdjust="spacingAndGlyphs" stroke="#000" stroke-width="0.6">0</text>
<line x1="33.70" y1="750.70" x2="150.40" y2="750.70" stroke="#000" stroke-width="1.9" stroke-linecap="butt"/>
<text transform="translate(6.52,688.00) rotate(-90)" font-size="9" text-anchor="middle" textLength="88.50" lengthAdjust="spacingAndGlyphs" stroke="#000" stroke-width="0.5">Relative expression</text>
<rect x="48.40" y="675.60" width="31.00" height="75.10" fill="#000"/>
<line x1="63.70" y1="639.70" x2="63.70" y2="676.10" stroke="#000" stroke-width="1.8" stroke-linecap="butt"/>
<line x1="54.00" y1="639.70" x2="72.60" y2="639.70" stroke="#000" stroke-width="1.8" stroke-linecap="butt"/>
<rect x="84.30" y="681.50" width="30.70" height="69.20" fill="#000"/>
<line x1="99.70" y1="662.60" x2="99.70" y2="682.00" stroke="#000" stroke-width="1.8" stroke-linecap="butt"/>
<line x1="90.90" y1="662.60" x2="107.90" y2="662.60" stroke="#000" stroke-width="1.8" stroke-linecap="butt"/>
<rect x="120.00" y="694.00" width="30.40" height="56.70" fill="#000"/>
<line x1="135.00" y1="677.60" x2="135.00" y2="694.50" stroke="#000" stroke-width="1.8" stroke-linecap="butt"/>
<line x1="126.80" y1="677.60" x2="143.80" y2="677.60" stroke="#000" stroke-width="1.8" stroke-linecap="butt"/>
<text x="98.45" y="616.78" font-size="10" font-weight="normal" text-anchor="middle" textLength="17.10" lengthAdjust="spacingAndGlyphs" stroke="#000" stroke-width="0.45">n.s.</text>
<text x="134.75" y="616.78" font-size="10" font-weight="normal" text-anchor="middle" textLength="16.50" lengthAdjust="spacingAndGlyphs" stroke="#000" stroke-width="0.45">n.s.</text>
<text x="64.35" y="762.44" font-size="9.6" font-weight="normal" text-anchor="middle" textLength="18.10" lengthAdjust="spacingAndGlyphs" stroke="#000" stroke-width="0.4">PRP</text>
<text x="97.20" y="762.44" font-size="9.6" font-weight="normal" text-anchor="middle" textLength="35.60" lengthAdjust="spacingAndGlyphs" stroke="#000" stroke-width="0.4">Fc&#947;RIIA<tspan font-size="5.5" dy="-3">+</tspan></text>
<text x="135.35" y="762.44" font-size="9.6" font-weight="normal" text-anchor="middle" textLength="13.70" lengthAdjust="spacingAndGlyphs" stroke="#000" stroke-width="0.4">WT</text>
<text x="97.75" y="776.21" font-size="14" font-weight="bold" text-anchor="middle" textLength="56.30" lengthAdjust="spacingAndGlyphs" stroke="#000" stroke-width="0.35">P selectin</text>
<line x1="198.80" y1="620.05" x2="198.80" y2="751.65" stroke="#000" stroke-width="1.9" stroke-linecap="butt"/>
<line x1="193.60" y1="621.00" x2="198.80" y2="621.00" stroke="#000" stroke-width="1.9" stroke-linecap="butt"/>
<text x="183.90" y="624.28" font-size="10" font-weight="normal" text-anchor="middle" textLength="15.60" lengthAdjust="spacingAndGlyphs" stroke="#000" stroke-width="0.6">2.5</text>
<line x1="193.60" y1="646.60" x2="198.80" y2="646.60" stroke="#000" stroke-width="1.9" stroke-linecap="butt"/>
<text x="188.70" y="649.88" font-size="10" font-weight="normal" text-anchor="middle" textLength="6.00" lengthAdjust="spacingAndGlyphs" stroke="#000" stroke-width="0.6">2</text>
<line x1="193.60" y1="673.00" x2="198.80" y2="673.00" stroke="#000" stroke-width="1.9" stroke-linecap="butt"/>
<text x="183.90" y="676.28" font-size="10" font-weight="normal" text-anchor="middle" textLength="15.60" lengthAdjust="spacingAndGlyphs" stroke="#000" stroke-width="0.6">1.5</text>
<line x1="193.60" y1="698.90" x2="198.80" y2="698.90" stroke="#000" stroke-width="1.9" stroke-linecap="butt"/>
<text x="188.70" y="702.18" font-size="10" font-weight="normal" text-anchor="middle" textLength="6.00" lengthAdjust="spacingAndGlyphs" stroke="#000" stroke-width="0.6">1</text>
<line x1="193.60" y1="724.50" x2="198.80" y2="724.50" stroke="#000" stroke-width="1.9" stroke-linecap="butt"/>
<text x="183.90" y="727.78" font-size="10" font-weight="normal" text-anchor="middle" textLength="15.60" lengthAdjust="spacingAndGlyphs" stroke="#000" stroke-width="0.6">0.5</text>
<line x1="193.60" y1="750.70" x2="198.80" y2="750.70" stroke="#000" stroke-width="1.9" stroke-linecap="butt"/>
<text x="188.70" y="753.98" font-size="10" font-weight="normal" text-anchor="middle" textLength="6.00" lengthAdjust="spacingAndGlyphs" stroke="#000" stroke-width="0.6">0</text>
<line x1="198.80" y1="750.70" x2="314.70" y2="750.70" stroke="#000" stroke-width="1.9" stroke-linecap="butt"/>
<text transform="translate(169.62,688.00) rotate(-90)" font-size="9" text-anchor="middle" textLength="89.00" lengthAdjust="spacingAndGlyphs" stroke="#000" stroke-width="0.5">Relative expression</text>
<rect x="212.40" y="657.60" width="30.30" height="93.10" fill="#000"/>
<line x1="227.30" y1="652.00" x2="227.30" y2="658.10" stroke="#000" stroke-width="1.8" stroke-linecap="butt"/>
<line x1="219.00" y1="652.00" x2="236.00" y2="652.00" stroke="#000" stroke-width="1.8" stroke-linecap="butt"/>
<rect x="248.20" y="639.30" width="29.80" height="111.40" fill="#000"/>
<line x1="262.80" y1="631.00" x2="262.80" y2="639.80" stroke="#000" stroke-width="1.8" stroke-linecap="butt"/>
<line x1="254.70" y1="631.00" x2="271.20" y2="631.00" stroke="#000" stroke-width="1.8" stroke-linecap="butt"/>
<rect x="283.60" y="645.50" width="31.10" height="105.20" fill="#000"/>
<line x1="298.60" y1="637.50" x2="298.60" y2="646.00" stroke="#000" stroke-width="1.8" stroke-linecap="butt"/>
<line x1="290.20" y1="637.50" x2="307.40" y2="637.50" stroke="#000" stroke-width="1.8" stroke-linecap="butt"/>
<text x="261.85" y="617.28" font-size="10" font-weight="normal" text-anchor="middle" textLength="31.10" lengthAdjust="spacingAndGlyphs" stroke="#000" stroke-width="0.45">p&lt;0.05</text>
<text x="298.90" y="616.88" font-size="10" font-weight="normal" text-anchor="middle" textLength="15.80" lengthAdjust="spacingAndGlyphs" stroke="#000" stroke-width="0.45">n.s.</text>
<text x="227.75" y="762.24" font-size="9.6" font-weight="normal" text-anchor="middle" textLength="18.10" lengthAdjust="spacingAndGlyphs" stroke="#000" stroke-width="0.4">PRP</text>
<text x="263.65" y="762.24" font-size="9.6" font-weight="normal" text-anchor="middle" textLength="34.70" lengthAdjust="spacingAndGlyphs" stroke="#000" stroke-width="0.4">Fc&#947;RIIA<tspan font-size="5.5" dy="-3">+</tspan></text>
<text x="298.75" y="762.24" font-size="9.6" font-weight="normal" text-anchor="middle" textLength="13.50" lengthAdjust="spacingAndGlyphs" stroke="#000" stroke-width="0.4">WT</text>
<text x="263.25" y="776.41" font-size="14" font-weight="bold" text-anchor="middle" textLength="59.50" lengthAdjust="spacingAndGlyphs" stroke="#000" stroke-width="0.35">Annexin V</text>
<line x1="366.70" y1="620.05" x2="366.70" y2="751.65" stroke="#000" stroke-width="1.9" stroke-linecap="butt"/>
<line x1="361.50" y1="621.00" x2="366.70" y2="621.00" stroke="#000" stroke-width="1.9" stroke-linecap="butt"/>
<text x="351.30" y="624.28" font-size="10" font-weight="normal" text-anchor="middle" textLength="15.60" lengthAdjust="spacingAndGlyphs" stroke="#000" stroke-width="0.6">6.5</text>
<line x1="361.50" y1="663.80" x2="366.70" y2="663.80" stroke="#000" stroke-width="1.9" stroke-linecap="butt"/>
<text x="356.10" y="667.08" font-size="10" font-weight="normal" text-anchor="middle" textLength="6.00" lengthAdjust="spacingAndGlyphs" stroke="#000" stroke-width="0.6">6</text>
<line x1="361.50" y1="707.00" x2="366.70" y2="707.00" stroke="#000" stroke-width="1.9" stroke-linecap="butt"/>
<text x="351.30" y="710.28" font-size="10" font-weight="normal" text-anchor="middle" textLength="15.60" lengthAdjust="spacingAndGlyphs" stroke="#000" stroke-width="0.6">5.5</text>
<line x1="361.50" y1="750.70" x2="366.70" y2="750.70" stroke="#000" stroke-width="1.9" stroke-linecap="butt"/>
<text x="356.10" y="753.98" font-size="10" font-weight="normal" text-anchor="middle" textLength="6.00" lengthAdjust="spacingAndGlyphs" stroke="#000" stroke-width="0.6">5</text>
<line x1="366.70" y1="750.70" x2="482.70" y2="750.70" stroke="#000" stroke-width="1.9" stroke-linecap="butt"/>
<text transform="translate(340.52,688.00) rotate(-90)" font-size="9" text-anchor="middle" textLength="88.50" lengthAdjust="spacingAndGlyphs" stroke="#000" stroke-width="0.5">Relative expression</text>
<rect x="380.40" y="702.50" width="30.60" height="48.20" fill="#000"/>
<line x1="395.80" y1="662.30" x2="395.80" y2="703.00" stroke="#000" stroke-width="1.8" stroke-linecap="butt"/>
<line x1="387.40" y1="662.30" x2="404.20" y2="662.30" stroke="#000" stroke-width="1.8" stroke-linecap="butt"/>
<rect x="416.60" y="657.60" width="30.40" height="93.10" fill="#000"/>
<line x1="431.60" y1="621.00" x2="431.60" y2="658.10" stroke="#000" stroke-width="1.8" stroke-linecap="butt"/>
<line x1="423.20" y1="621.00" x2="439.60" y2="621.00" stroke="#000" stroke-width="1.8" stroke-linecap="butt"/>
<rect x="451.70" y="702.50" width="31.00" height="48.20" fill="#000"/>
<line x1="467.70" y1="657.60" x2="467.70" y2="703.00" stroke="#000" stroke-width="1.8" stroke-linecap="butt"/>
<line x1="459.00" y1="657.60" x2="476.00" y2="657.60" stroke="#000" stroke-width="1.8" stroke-linecap="butt"/>
<text x="431.90" y="618.08" font-size="10" font-weight="normal" text-anchor="middle" textLength="31.20" lengthAdjust="spacingAndGlyphs" stroke="#000" stroke-width="0.45">p&lt;0.01</text>
<text x="467.00" y="617.78" font-size="10" font-weight="normal" text-anchor="middle" textLength="16.80" lengthAdjust="spacingAndGlyphs" stroke="#000" stroke-width="0.45">n.s.</text>
<text x="395.65" y="762.24" font-size="9.6" font-weight="normal" text-anchor="middle" textLength="18.70" lengthAdjust="spacingAndGlyphs" stroke="#000" stroke-width="0.4">PRP</text>
<text x="432.15" y="762.24" font-size="9.6" font-weight="normal" text-anchor="middle" textLength="34.70" lengthAdjust="spacingAndGlyphs" stroke="#000" stroke-width="0.4">Fc&#947;RIIA<tspan font-size="5.5" dy="-3">+</tspan></text>
<text x="467.00" y="762.24" font-size="9.6" font-weight="normal" text-anchor="middle" textLength="13.20" lengthAdjust="spacingAndGlyphs" stroke="#000" stroke-width="0.4">WT</text>
<text x="431.95" y="776.41" font-size="14" font-weight="bold" text-anchor="middle" textLength="15.30" lengthAdjust="spacingAndGlyphs" stroke="#000" stroke-width="0.35">FX</text>
</g>
</svg>
</body></html>
